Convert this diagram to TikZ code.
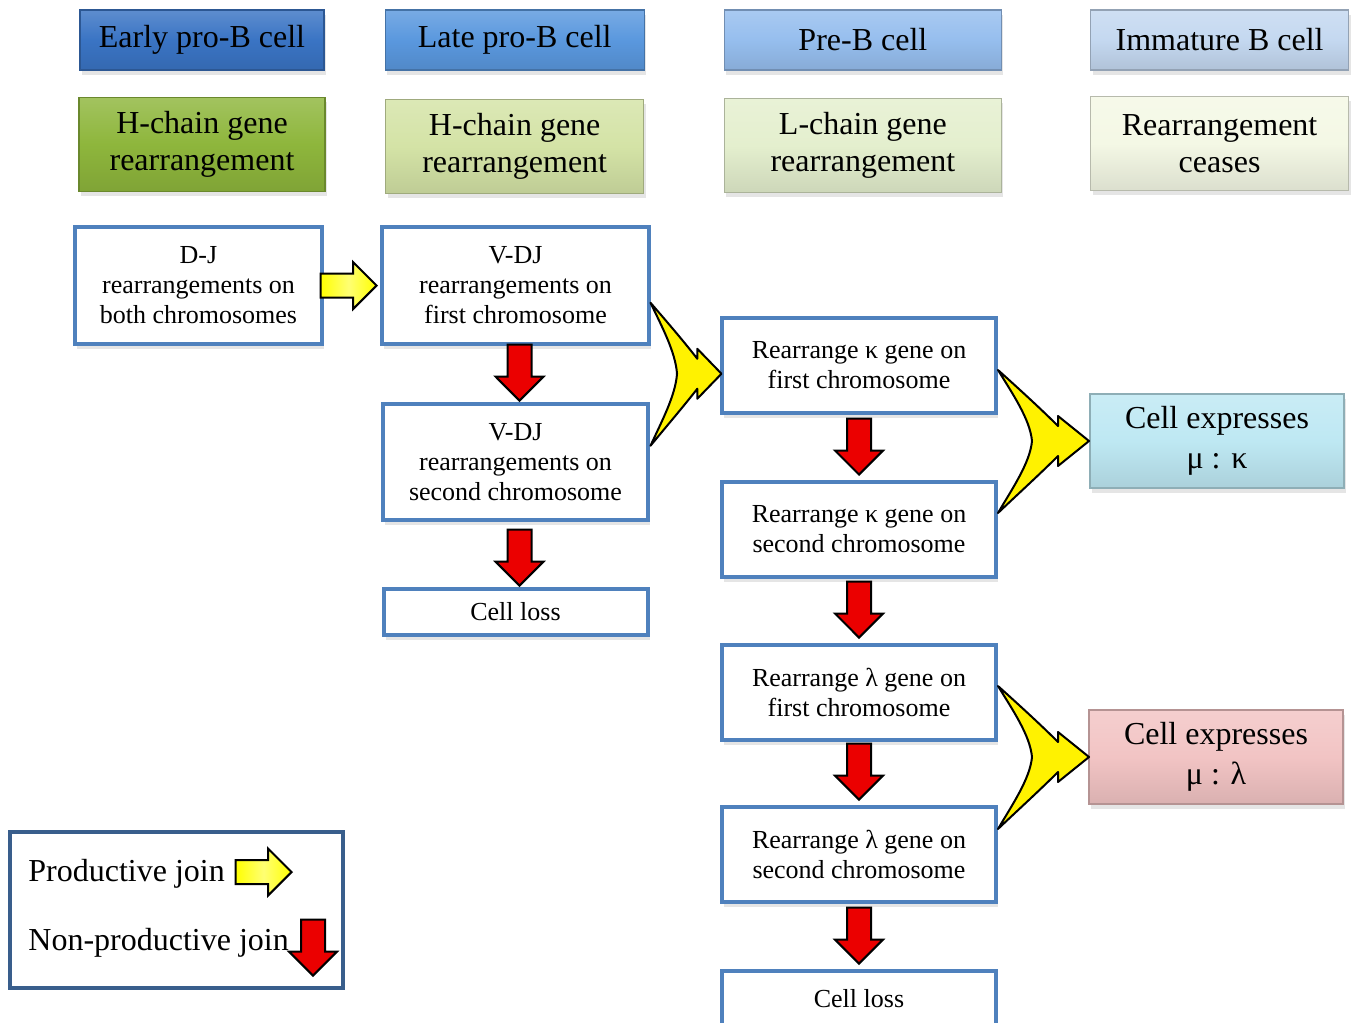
\documentclass[tikz,border=0pt]{standalone}
\usepackage{fontspec}
\setmainfont{Liberation Serif}
\usepackage{tikz}
\usetikzlibrary{shapes.arrows, positioning, calc, shadows}
\definecolor{boxblue}{RGB}{79,129,189}
\definecolor{legblue}{RGB}{57,94,140}
\definecolor{earlyblue}{RGB}{58,116,196}
\definecolor{lateblue}{RGB}{90,152,222}
\definecolor{preblue}{RGB}{150,190,238}
\definecolor{immblue}{RGB}{196,216,240}
\definecolor{hgreen}{RGB}{142,182,60}
\definecolor{hlight}{RGB}{212,227,166}
\definecolor{lgreen}{RGB}{228,239,206}
\definecolor{cgreen}{RGB}{244,248,229}
\definecolor{kapcyan}{RGB}{190,232,243}
\definecolor{lampink}{RGB}{242,196,196}
\definecolor{arrowred}{RGB}{235,0,0}
\tikzset{
  hdr/.style={rectangle, inner sep=0pt, align=center,
              minimum height=30pt, font=\fontsize{16}{18.5}\selectfont,
              draw=#1!75!black, line width=0.6pt,
              top color=#1!82!white, bottom color=#1!90!black, middle color=#1,
              drop shadow={shadow xshift=1pt, shadow yshift=-2.5pt, opacity=0.2}},
  tallhdr/.style={hdr=#1, minimum height=47pt},
  box/.style={rectangle, draw=boxblue, line width=2pt, fill=white,
              inner sep=0pt, align=center, minimum width=137pt,
              minimum height=47.5pt, font=\fontsize{13}{15}\selectfont,
              drop shadow={shadow xshift=1pt, shadow yshift=-2.5pt, opacity=0.2}},
  prodarrow/.style={single arrow, draw=black, line width=1pt,
              left color=yellow, right color=yellow, middle color=yellow!55!white,
              shading angle=90, anchor=tip,
              minimum height=28pt, minimum width=22.5pt,
              single arrow head extend=5.75pt, inner sep=5.5pt},
  nonprod/.style={single arrow, draw=black, line width=1pt, fill=arrowred,
              minimum height=28pt, minimum width=23pt, rotate=-90, anchor=tip,
              single arrow head extend=6pt, inner sep=5.5pt},
  chev/.style={fill=yellow, draw=black, line width=1pt, line join=round},
  legtext/.style={font=\fontsize{16}{18}\selectfont, inner sep=3pt},
  chevron/.pic={
    \draw[chev] (0,-71) .. controls (20,-53) and (42,-33) .. (60,-15)
      -- (60,-25) -- (91,0) -- (60,25) -- (60,15)
      .. controls (42,33) and (20,53) .. (0,72)
      .. controls (14,48) and (32,22) .. (34,0)
      .. controls (32,-22) and (14,-48) .. cycle;
  }
}
\begin{document}
\begin{tikzpicture}[x=0.5pt, y=-0.5pt]
  \path[use as bounding box, fill=white] (0,0) rectangle (1351,1023);

  % stage headers
  \node[hdr=earlyblue, minimum width=122pt] (early) at (202,40) {Early pro-B cell};
  \node[hdr=lateblue, minimum width=129.5pt, right=30pt of early] (late) {Late pro-B cell};
  \node[hdr=preblue, minimum width=138.5pt, right=39.5pt of late] (preb) {Pre-B cell};
  \node[hdr=immblue, minimum width=129pt, right=44pt of preb] (immat) {Immature B cell};

  \node[tallhdr=hgreen, minimum width=123pt, below=13pt of early] (hc1)
    {H-chain gene\\rearrangement};
  \node[tallhdr=hlight, minimum width=129pt, below=14pt of late] (hc2)
    {H-chain gene\\rearrangement};
  \node[tallhdr=lgreen, minimum width=138.5pt, below=13.5pt of preb] (lc)
    {L-chain gene\\rearrangement};
  \node[tallhdr=cgreen, minimum width=129pt, below=12.5pt of immat] (ceases)
    {Rearrangement\\ceases};

  % heavy chain steps
  \node[box, minimum width=123.5pt, minimum height=58.5pt] (dj) at (198.5,285.5)
    {D-J\\rearrangements on\\both chromosomes};
  \node[box, minimum width=133.5pt, minimum height=58.5pt, right=28pt of dj] (vdj1)
    {V-DJ\\rearrangements on\\first chromosome};
  \node[box, minimum width=132.5pt, minimum height=58pt, below=28pt of vdj1] (vdj2)
    {V-DJ\\rearrangements on\\second chromosome};
  \node[box, minimum width=132pt, minimum height=23pt, below=32.5pt of vdj2] (loss1)
    {Cell loss};

  % light chain steps
  \node[box] (kap1) at (859,365.5) {Rearrange κ gene on\\first chromosome};
  \node[box, below=32.5pt of kap1] (kap2) {Rearrange κ gene on\\second chromosome};
  \node[box, below=32pt of kap2] (lam1) {Rearrange λ gene on\\first chromosome};
  \node[box, below=31.5pt of lam1] (lam2) {Rearrange λ gene on\\second chromosome};
  \node[box, minimum height=28pt, below=32.5pt of lam2] (loss2) {Cell loss};

  % outcomes
  \node[tallhdr=kapcyan, minimum width=127pt, font=\fontsize{16}{20}\selectfont] (mk)
    at (1217,441) {Cell expresses\\μ : κ};
  \node[tallhdr=lampink, minimum width=127pt, font=\fontsize{16}{20}\selectfont] (ml)
    at (1216,757) {Cell expresses\\μ : λ};

  % joins
  \node[prodarrow] (p1) at ([xshift=-1pt]vdj1.west) {};
  \node[nonprod] (n1) at ([xshift=2pt]vdj2.north) {};
  \node[nonprod] (n2) at ([xshift=2pt]loss1.north) {};
  \node[nonprod] (n3) at ([yshift=2pt]kap2.north) {};
  \node[nonprod] (n4) at ([yshift=2pt]lam1.north) {};
  \node[nonprod] (n5) at ([yshift=2pt]lam2.north) {};
  \node[nonprod] (n6) at ([yshift=2pt]loss2.north) {};

  \pic[xscale=0.78] at ($(vdj1.east)!0.5!(vdj2.east)$) {chevron};
  \pic at (kap1.east |- mk.west) {chevron};
  \pic at (lam1.east |- ml.west) {chevron};

  % legend
  \node[draw=legblue, line width=2pt, fill=white, minimum width=166.5pt,
        minimum height=78pt] (legend) at (176.5,910) {};
  \node[legtext, anchor=west] (prodtxt) at (22,874) {Productive join};
  \node[prodarrow] (lp) at (293,872) {};
  \node[legtext, anchor=west] (nprodtxt) at (22,943) {Non-productive join};
  \node[nonprod] (ln) at (313,977) {};
\end{tikzpicture}
\end{document}
